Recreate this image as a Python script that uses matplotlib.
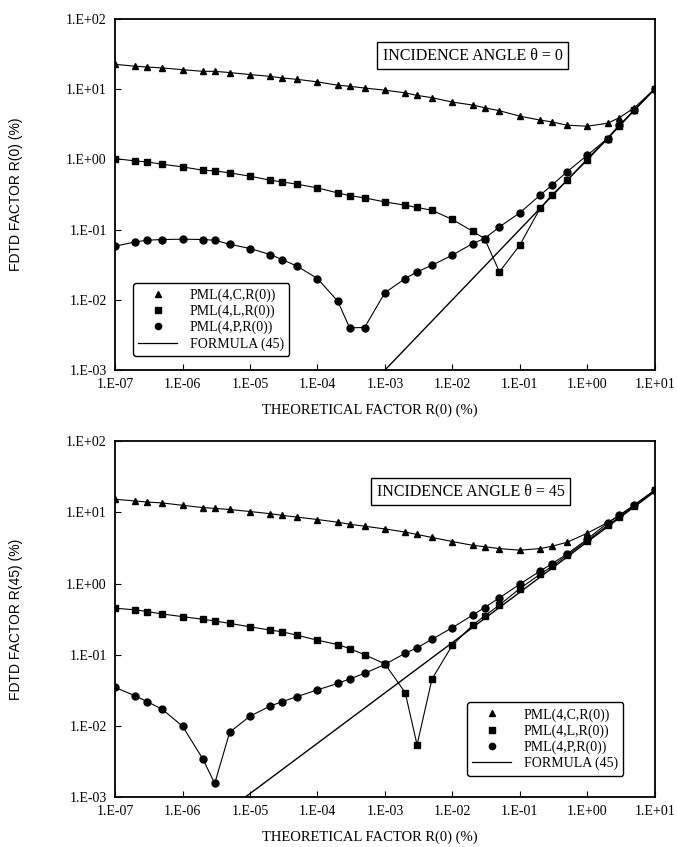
import matplotlib
matplotlib.use("Agg")
import matplotlib.pyplot as plt

plt.rcParams['font.family'] = ['Liberation Serif', 'DejaVu Serif']

# theoretical factor R(0) in %, same grid for every series
x_vals = [1e-7, 2e-7, 3e-7, 5e-7, 1e-6, 2e-6, 3e-6, 5e-6,
          1e-5, 2e-5, 3e-5, 5e-5, 1e-4, 2e-4, 3e-4, 5e-4,
          1e-3, 2e-3, 3e-3, 5e-3, 1e-2, 2e-2, 3e-2, 5e-2,
          1e-1, 2e-1, 3e-1, 5e-1, 1.0, 2.0, 3.0, 5.0, 10.0]

# incidence angle 0
c_0 = [22.4, 21.0, 20.5, 19.9, 18.8, 17.8, 17.8, 17.1, 16.0, 15.1, 14.3, 13.7,
       12.6, 11.3, 10.9, 10.3, 9.6, 8.8, 8.1, 7.5, 6.5, 5.9, 5.4, 4.9,
       4.1, 3.6, 3.4, 3.05, 2.95, 3.25, 3.9, 5.4, 10.0]
l_0 = [1.02, 0.946, 0.916, 0.849, 0.778, 0.698, 0.683, 0.640, 0.574, 0.503, 0.476, 0.441,
       0.391, 0.332, 0.304, 0.282, 0.247, 0.222, 0.206, 0.188, 0.139, 0.0946, 0.0745, 0.025,
       0.060, 0.20, 0.31, 0.50, 0.97, 1.95, 2.95, 5.0, 10.0]
p_0 = [0.058, 0.0668, 0.0705, 0.0721, 0.0729, 0.0721, 0.0705, 0.0618, 0.0537, 0.0441, 0.0374, 0.0301,
       0.0201, 0.00957, 0.0040, 0.00404, 0.0126, 0.0201, 0.025, 0.0311, 0.0432, 0.0632, 0.0745, 0.109,
       0.173, 0.308, 0.427, 0.66, 1.14, 1.97, 3.04, 4.97, 10.0]
formula_x = [1e-7, 10.0]
formula_0 = [1e-7, 10.0]

# incidence angle 45
c_45 = [15.3, 14.5, 14.0, 13.6, 12.6, 11.7, 11.4, 11.0, 10.3, 9.6, 9.1, 8.6,
        7.95, 7.29, 6.83, 6.40, 5.86, 5.3, 4.9, 4.45, 3.9, 3.45, 3.3, 3.1,
        2.95, 3.1, 3.35, 3.8, 5.1, 7.2, 9.0, 12.8, 20.5]
l_45 = [0.451, 0.427, 0.404, 0.374, 0.343, 0.315, 0.298, 0.276, 0.247, 0.222, 0.210, 0.188,
        0.160, 0.139, 0.122, 0.100, 0.0745, 0.0294, 0.00543, 0.0456, 0.136, 0.26, 0.35, 0.50,
        0.85, 1.35, 1.75, 2.5, 4.0, 6.6, 8.6, 12.5, 20.5]
p_45 = [0.0347, 0.0264, 0.0219, 0.0171, 0.00989, 0.00343, 0.00155, 0.00813, 0.0137, 0.0190, 0.0219, 0.0258,
        0.0321, 0.0395, 0.0456, 0.0548, 0.0730, 0.105, 0.125, 0.165, 0.24, 0.36, 0.46, 0.63,
        0.98, 1.5, 1.9, 2.6, 4.2, 7.1, 9.2, 12.6, 20.5]
formula_45 = [4.3e-5, 19.6]

x_ticks = [1e-7, 1e-6, 1e-5, 1e-4, 1e-3, 1e-2, 1e-1, 1e0, 1e1]
x_ticklabels = ['1.E-07', '1.E-06', '1.E-05', '1.E-04', '1.E-03', '1.E-02', '1.E-01', '1.E+00', '1.E+01']
y_ticks = [1e-3, 1e-2, 1e-1, 1e0, 1e1, 1e2]
y_ticklabels = ['1.E-03', '1.E-02', '1.E-01', '1.E+00', '1.E+01', '1.E+02']

legend_names = ['PML(4,C,R(0))', 'PML(4,L,R(0))', 'PML(4,P,R(0))', 'FORMULA (45)']


def draw(ax, c, l, p, fy, ylabel, title, leg_loc, leg_anchor, box_xy):
    ax.plot(x_vals, c, '-', color='black', lw=0.8, marker='^', ms=5, label=legend_names[0])
    ax.plot(x_vals, l, '-', color='black', lw=0.8, marker='s', ms=4.8, label=legend_names[1])
    ax.plot(x_vals, p, '-', color='black', lw=0.8, marker='o', ms=5, label=legend_names[2])
    ax.plot(formula_x, fy, '-', color='black', lw=1.0, label=legend_names[3])
    ax.set_xscale('log')
    ax.set_yscale('log')
    ax.set_xlim(1e-7, 1e1)
    ax.set_ylim(1e-3, 1e2)
    ax.set_xticks(x_ticks)
    ax.set_xticklabels(x_ticklabels)
    ax.set_yticks(y_ticks)
    ax.set_yticklabels(y_ticklabels)
    ax.minorticks_off()
    ax.tick_params(direction='in', length=4, labelsize=10, pad=6)
    for s in ax.spines.values():
        s.set_linewidth(1.3)
    ax.set_xlabel('THEORETICAL FACTOR R(0) (%)', fontsize=10.5)
    ax.xaxis.set_label_coords(0.472, -0.094)
    ax.set_ylabel(ylabel, fontsize=10, family=['Liberation Sans', 'DejaVu Sans'])
    ax.yaxis.set_label_coords(-0.170, 0.5)
    ax.text(box_xy[0], box_xy[1], title, transform=ax.transAxes, ha='center', va='center',
            fontsize=11.5, bbox=dict(boxstyle='square,pad=0.35', fc='white', ec='black', lw=1.0))

    labels = ax.get_legend_handles_labels()[1]
    hs = []
    for m in ['^', 's', 'o']:
        hs.append(plt.Line2D([], [], ls='none', marker=m, color='black', ms=4.5))
    hs.append(plt.Line2D([], [], color='black', lw=0.9))
    leg = ax.legend(hs, labels, loc=leg_loc, bbox_to_anchor=leg_anchor, fontsize=10,
                    frameon=True, fancybox=True, edgecolor='black', framealpha=1,
                    handlelength=2.8, handletextpad=0.9, labelspacing=0.2, borderpad=0.4)
    leg.get_frame().set_linewidth(1.0)


fig = plt.figure(figsize=(6.77, 8.47), dpi=100)
ax1 = fig.add_axes([0.170, 0.563, 0.797, 0.415])
ax2 = fig.add_axes([0.170, 0.059, 0.797, 0.420])

draw(ax1, c_0, l_0, p_0, formula_0, 'FDTD FACTOR R(0) (%)', 'INCIDENCE ANGLE \u03b8 = 0',
     'lower left', (0.02, 0.02), (0.663, 0.895))
draw(ax2, c_45, l_45, p_45, formula_45, 'FDTD FACTOR R(45) (%)', 'INCIDENCE ANGLE \u03b8 = 45',
     'lower right', (0.955, 0.04), (0.659, 0.858))

fig.savefig('out.png', dpi=100)
